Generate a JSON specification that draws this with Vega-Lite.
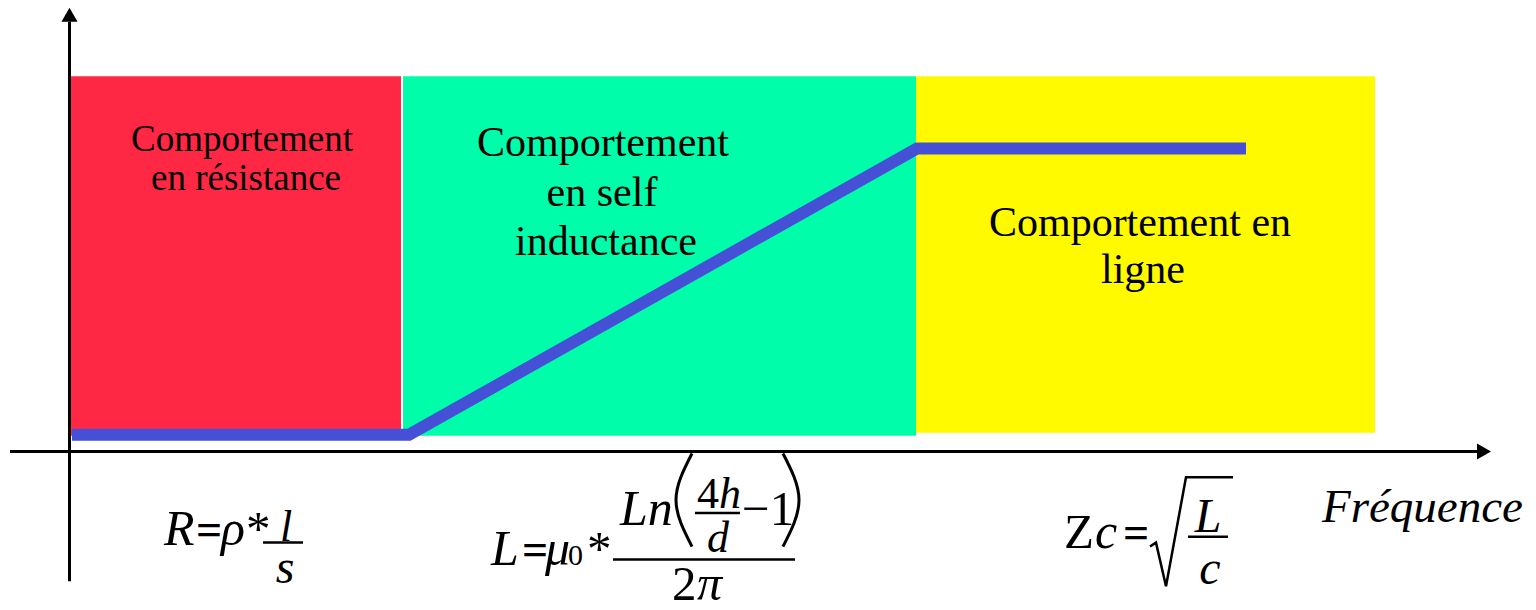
{
  "$schema": "https://vega.github.io/schema/vega-lite/v6.json",
  "autosize": {"type": "fit", "contains": "padding"},
  "width": 1536,
  "height": 610,
  "padding": 0,
  "background": "white",
  "config": {"view": {"stroke": null}, "text": {"font": "Liberation Serif", "baseline": "alphabetic", "color": "black"}},
  "encoding": {
    "x": {"field": "x", "type": "quantitative", "scale": {"domain": [0, 1536], "nice": false, "zero": false}, "axis": null},
    "y": {"field": "y", "type": "quantitative", "scale": {"domain": [0, 610], "nice": false, "zero": false}, "axis": null}
  },
  "layer": [
    {
      "data": {"values": [
        {"zone": "résistance", "x": 71, "x2": 401, "y": 170, "y2": 533},
        {"zone": "self", "x": 403, "x2": 916, "y": 170, "y2": 533},
        {"zone": "ligne", "x": 916, "x2": 1375, "y": 173, "y2": 533}
      ]},
      "mark": {"type": "rect"},
      "encoding": {
        "x2": {"field": "x2"},
        "y2": {"field": "y2"},
        "color": {"field": "zone", "type": "nominal", "scale": {"domain": ["résistance", "self", "ligne"], "range": ["#FF2844", "#00FDAA", "#FFFA00"]}, "legend": null}
      }
    },
    {
      "data": {"values": [
        {"x": 72, "y": 171}, {"x": 409, "y": 171}, {"x": 917, "y": 460}, {"x": 1246, "y": 460}
      ]},
      "mark": {"type": "line", "color": "#4550D6", "strokeWidth": 12, "strokeCap": "butt", "strokeJoin": "miter"},
      "encoding": {"order": {"field": "x", "type": "quantitative"}}
    },
    {
      "data": {"values": [{"x": 69.5, "y": 23, "y2": 588}]},
      "mark": {"type": "rule", "color": "black", "strokeWidth": 3},
      "encoding": {"y2": {"field": "y2"}}
    },
    {
      "data": {"values": [{"x": 10, "x2": 1482, "y": 154}]},
      "mark": {"type": "rule", "color": "black", "strokeWidth": 3},
      "encoding": {"x2": {"field": "x2"}}
    },
    {
      "data": {"values": [{"x": 69.5, "y": 595}]},
      "mark": {"type": "point", "shape": "triangle-up", "filled": true, "color": "black", "size": 260, "opacity": 1}
    },
    {
      "data": {"values": [{"x": 1484, "y": 154}]},
      "mark": {"type": "point", "shape": "triangle-right", "filled": true, "color": "black", "size": 260, "opacity": 1}
    },
    {
      "data": {"values": [
        {"x": 242, "y": 458, "t": "Comportement"},
        {"x": 246, "y": 418, "t": "en résistance"}
      ]},
      "mark": {"type": "text", "fontSize": 37, "align": "center"},
      "encoding": {"text": {"field": "t"}}
    },
    {
      "data": {"values": [
        {"x": 603, "y": 452, "t": "Comportement"},
        {"x": 602, "y": 402, "t": "en self"},
        {"x": 606, "y": 352, "t": "inductance"},
        {"x": 1140, "y": 372, "t": "Comportement en"},
        {"x": 1143, "y": 324, "t": "ligne"}
      ]},
      "mark": {"type": "text", "fontSize": 42, "align": "center"},
      "encoding": {"text": {"field": "t"}}
    },
    {
      "data": {"values": [{"x": 1322, "y": 83, "t": "Fréquence"}]},
      "mark": {"type": "text", "fontSize": 47, "fontStyle": "italic", "align": "left"},
      "encoding": {"text": {"field": "t"}}
    },
    {
      "data": {"values": [
        {"x": 196, "y": 60, "t": "="},
        {"x": 522, "y": 39, "t": "="},
        {"x": 1123, "y": 57, "t": "="}
      ]},
      "mark": {"type": "text", "fontSize": 46, "fontWeight": "bold", "align": "left"},
      "encoding": {"text": {"field": "t"}}
    },
    {
      "data": {"values": [
        {"x": 246, "y": 60, "t": "*"},
        {"x": 587, "y": 39, "t": "*"},
        {"x": 742, "y": 80, "t": "−1"},
        {"x": 672, "y": 4, "t": "2"},
        {"x": 1064, "y": 57, "t": "Z"}
      ]},
      "mark": {"type": "text", "fontSize": 49, "align": "left"},
      "encoding": {"text": {"field": "t"}}
    },
    {
      "data": {"values": [
        {"x": 164, "y": 60, "t": "R"},
        {"x": 221, "y": 60, "t": "ρ"},
        {"x": 491, "y": 39, "t": "L"},
        {"x": 545, "y": 39, "t": "μ"},
        {"x": 620, "y": 80, "t": "Ln"},
        {"x": 697, "y": 4, "t": "π"},
        {"x": 1095, "y": 57, "t": "c"}
      ]},
      "mark": {"type": "text", "fontSize": 50, "fontStyle": "italic", "align": "left"},
      "encoding": {"text": {"field": "t"}}
    },
    {
      "data": {"values": [
        {"x": 285, "y": 21, "t": "s"},
        {"x": 1208, "y": 73, "t": "L"},
        {"x": 1210, "y": 20, "t": "c"}
      ]},
      "mark": {"type": "text", "fontSize": 48, "fontStyle": "italic", "align": "center"},
      "encoding": {"text": {"field": "t"}}
    },
    {
      "data": {"values": [
        {"x": 718, "y": 53, "t": "d"}
      ]},
      "mark": {"type": "text", "fontSize": 44, "fontStyle": "italic", "align": "center"},
      "encoding": {"text": {"field": "t"}}
    },
    {
      "data": {"values": [
        {"x": 286, "y": 64, "t": "l"}
      ]},
      "mark": {"type": "text", "fontSize": 44, "fontStyle": "italic", "align": "center"},
      "encoding": {"text": {"field": "t"}}
    },
    {
      "data": {"values": [
        {"x": 697, "y": 97, "t": "4"}
      ]},
      "mark": {"type": "text", "fontSize": 44, "align": "left"},
      "encoding": {"text": {"field": "t"}}
    },
    {
      "data": {"values": [
        {"x": 719, "y": 97, "t": "h"}
      ]},
      "mark": {"type": "text", "fontSize": 44, "fontStyle": "italic", "align": "left"},
      "encoding": {"text": {"field": "t"}}
    },
    {
      "data": {"values": [
        {"x": 568, "y": 39, "t": "0"}
      ]},
      "mark": {"type": "text", "fontSize": 30, "align": "left"},
      "encoding": {"text": {"field": "t"}}
    },
    {
      "data": {"values": [
        {"x": 263, "x2": 303, "y": 62},
        {"x": 613, "x2": 795, "y": 45},
        {"x": 695, "x2": 740, "y": 92},
        {"x": 1188, "x2": 1228, "y": 68}
      ]},
      "mark": {"type": "rule", "color": "black", "strokeWidth": 2.5},
      "encoding": {"x2": {"field": "x2"}}
    },
    {
      "data": {"values": [
        {"g": "sqrt", "o": 1, "x": 1150, "y": 58},
        {"g": "sqrt", "o": 2, "x": 1156, "y": 62},
        {"g": "sqrt", "o": 3, "x": 1166, "y": 18},
        {"g": "sqrt", "o": 4, "x": 1186, "y": 128},
        {"g": "sqrt", "o": 5, "x": 1233, "y": 128}
      ]},
      "mark": {"type": "line", "color": "black", "strokeWidth": 2.5, "strokeJoin": "miter"},
      "encoding": {"detail": {"field": "g"}, "order": {"field": "o", "type": "quantitative"}}
    },
    {
      "data": {"values": [
        {"g": "open", "o": 1, "x": 692, "y": 152},
        {"g": "open", "o": 2, "x": 676, "y": 105},
        {"g": "open", "o": 3, "x": 692, "y": 58},
        {"g": "close", "o": 1, "x": 783, "y": 152},
        {"g": "close", "o": 2, "x": 799, "y": 105},
        {"g": "close", "o": 3, "x": 783, "y": 58}
      ]},
      "mark": {"type": "line", "color": "black", "strokeWidth": 3, "interpolate": "natural"},
      "encoding": {"detail": {"field": "g"}, "order": {"field": "o", "type": "quantitative"}}
    }
  ]
}
